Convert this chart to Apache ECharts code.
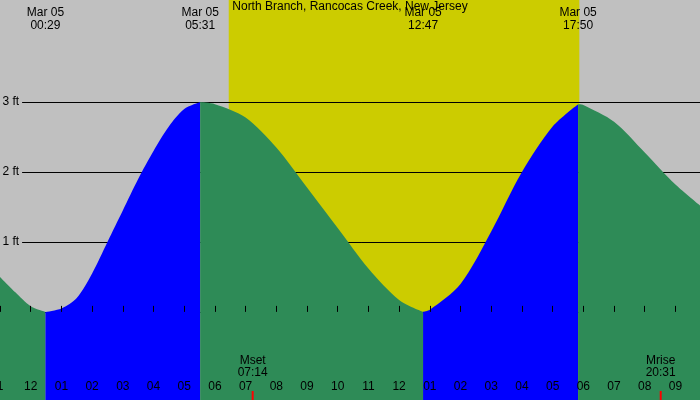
<!DOCTYPE html>
<html><head><meta charset="utf-8">
<script src="https://cdn.jsdelivr.net/npm/echarts@6/dist/echarts.min.js"></script>
<style>html,body{margin:0;padding:0;background:#c0c0c0}#c{width:700px;height:400px}</style>
</head><body><div id="c"></div>
<script>
// 潮位 (ft) 按小时读图
var rise1 = [[-1,0.5],[-0.5,0.28],[0,0.08],[0.48,0.0]];
var rise1b = [[0.48,0.0],[1,0.05],[1.5,0.2],[2,0.55],[2.5,1.0],[3,1.45],[3.5,1.9],[4,2.3],[4.5,2.65],[5,2.9],[5.52,3.0]];
var fall1 = [[5.52,3.0],[6,2.97],[7,2.78],[8,2.35],[9,1.78],[10,1.2],[11,0.62],[12,0.17],[12.78,0.0]];
var rise2 = [[12.78,0.0],[13,0.03],[14,0.4],[15,1.15],[16,2.0],[17,2.65],[17.83,2.97]];
var fall2 = [[17.83,2.97],[18,2.96],[19,2.72],[20,2.28],[21,1.82],[21.8,1.52]];
var dayStart = 6.45, dayEnd = 17.87;
var tideMarks = [[0.48,'00:29'],[5.52,'05:31'],[12.78,'12:47'],[17.83,'17:50']];
var moonMarks = [[7.23,'Mset','07:14'],[20.52,'Mrise','20:31']];
var levels = [0,1,2,3];

var font = 'Liberation Sans';
var chart = echarts.init(document.getElementById('c'));
function area(d, color){
  return {type:'line', data:d, smooth:0.3, symbol:'none', z:3,
    lineStyle:{width:0}, areaStyle:{color:color, opacity:1, origin:'start'}};
}
var series = [area(rise1,'#2e8b57'),area(rise1b,'#0000ff'),area(fall1,'#2e8b57'),area(rise2,'#0000ff'),area(fall2,'#2e8b57')];
series[0].markArea = {silent:true, itemStyle:{color:'#cccc00'}, data:[[{xAxis:dayStart},{xAxis:dayEnd}]], z:1};
series[4].markLine = {silent:true, symbol:'none', z:2,
  lineStyle:{color:'#000',width:1,type:'solid'},
  label:{position:'start',distance:3,color:'#000',fontFamily:font,fontSize:12,formatter:function(p){return p.data.name;}},
  data:levels.map(function(v){return [{coord:[-0.28,v],name:v+' ft'},{coord:[21.8,v]}];})};
chart.setOption({
  animation:false,
  grid:{left:0,right:0,top:0,bottom:0,containLabel:false,outerBoundsMode:'none',show:true,backgroundColor:'#c0c0c0',borderWidth:0},
  xAxis:{type:'value',min:-1,max:21.8,interval:1,z:20,
    axisLine:{show:false},
    axisTick:{show:true,inside:true,length:6,lineStyle:{color:'#000'}},
    splitLine:{show:false},
    axisLabel:{inside:true,margin:7,color:'#000',fontFamily:font,fontSize:12,showMaxLabel:false,verticalAlign:'bottom',
      formatter:function(v){var h=((v%12)+12)%12; if(h===0)h=12; return v<0?'1':(h<10?'0'+h:''+h);}}},
  yAxis:{type:'value',min:-1.26,max:4.46,show:false,splitLine:{show:false}},
  series:series
});
var g = [{type:'text',left:'center',top:1,z:100,style:{text:'North Branch, Rancocas Creek, New Jersey',fill:'#000',font:'12px '+font}}];
tideMarks.forEach(function(m){
  var x = chart.convertToPixel({xAxisIndex:0},m[0]);
  g.push({type:'text',x:x,y:19,z:100,style:{text:'Mar 05\n'+m[1],fill:'#000',font:'12px '+font,align:'center',verticalAlign:'middle',lineHeight:13}});
});
moonMarks.forEach(function(m){
  var x = chart.convertToPixel({xAxisIndex:0},m[0]);
  g.push({type:'text',x:x,y:367,z:100,style:{text:m[1]+'\n'+m[2],fill:'#000',font:'12px '+font,align:'center',verticalAlign:'middle',lineHeight:12}});
  g.push({type:'rect',z:100,shape:{x:x-1,y:391,width:2,height:9},style:{fill:'#ff0000'}});
});
chart.setOption({graphic:g});
</script></body></html>
